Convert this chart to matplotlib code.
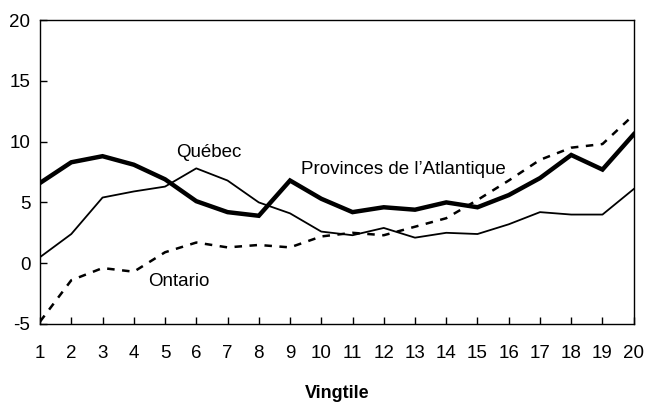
import matplotlib
matplotlib.use("Agg")
from matplotlib import pyplot as plt

plt.rcParams['font.family'] = ['Liberation Sans', 'DejaVu Sans']
plt.rcParams['axes.unicode_minus'] = False

vingtiles = list(range(1, 21))
atlantique = [6.6, 8.3, 8.8, 8.1, 6.9, 5.1, 4.2, 3.9, 6.8, 5.3,
              4.2, 4.6, 4.4, 5.0, 4.6, 5.6, 7.0, 8.9, 7.7, 10.6]
quebec = [0.5, 2.4, 5.4, 5.9, 6.3, 7.8, 6.8, 5.0, 4.1, 2.6,
          2.3, 2.9, 2.1, 2.5, 2.4, 3.2, 4.2, 4.0, 4.0, 6.1]
ontario = [-4.8, -1.4, -0.4, -0.7, 0.9, 1.7, 1.3, 1.5, 1.3, 2.2,
           2.5, 2.3, 3.0, 3.7, 5.2, 6.8, 8.5, 9.5, 9.8, 12.2]
yticks = [-5, 0, 5, 10, 15, 20]

fig = plt.figure(figsize=(6.46, 4.05), dpi=100)
ax = fig.add_axes([0.062, 0.2, 0.919, 0.7506])

ax.plot(vingtiles, quebec, color='black', lw=1.3)
ax.plot(vingtiles, ontario, color='black', lw=1.8, linestyle=(0, (3, 3)))
ax.plot(vingtiles, atlantique, color='black', lw=3.2, solid_joinstyle='miter')

fs = 13.5
ax.text(6.4, 9.1, 'Québec', fontsize=fs, ha='center', va='center')
ax.text(9.35, 7.7, 'Provinces de l\u2019Atlantique', fontsize=fs, ha='left', va='center')
ax.text(5.45, -1.5, 'Ontario', fontsize=fs, ha='center', va='center')

ax.set_xlim(1, 20)
ax.set_ylim(-5, 20)
ax.set_xticks(vingtiles)
ax.set_yticks(yticks)
ax.set_yticklabels([str(v) for v in yticks])
ax.tick_params(direction='in', length=5, width=1, labelsize=fs)
ax.tick_params(axis='x', pad=15)
ax.tick_params(axis='y', pad=7)
for s in ax.spines.values():
    s.set_linewidth(1)

ax.set_xlabel('Vingtile', fontsize=13, fontweight='bold', labelpad=16.5)

fig.savefig('out.png', dpi=100)
